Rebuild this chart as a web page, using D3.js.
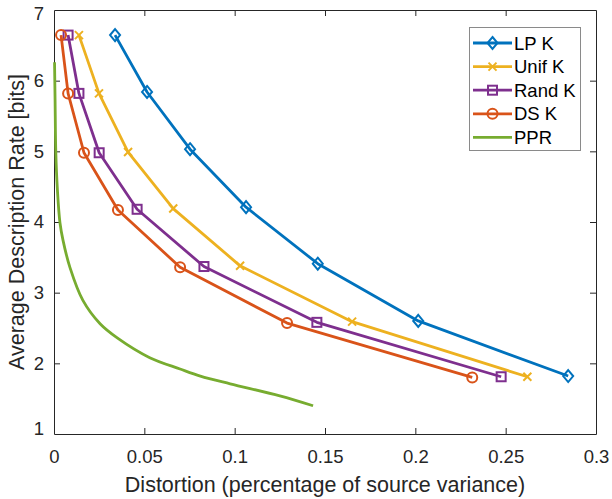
<!DOCTYPE html>
<html>
<head>
<meta charset="utf-8">
<script src="https://cdn.jsdelivr.net/npm/d3@7"></script>
<style>
  html, body { margin: 0; padding: 0; background: #fff; }
  svg { display: block; font-family: "Liberation Sans", Arial, Helvetica, sans-serif; }
</style>
</head>
<body>
<svg id="chart" width="612" height="499"></svg>
<script>
// ---- Data ----
const seriesNames = ["LP K", "Unif K", "Rand K", "DS K", "PPR"];
const seriesColors = ["#0072BD", "#EDB120", "#7E2F8E", "#D95319", "#77AC30"];
const seriesMarkers = ["diamond", "cross", "square", "circle", "none"];

const lpX   = [0.0338, 0.0515, 0.0753, 0.1063, 0.146, 0.2016, 0.2846];
const lpY   = [6.645, 5.84, 5.03, 4.21, 3.41, 2.60, 1.82];
const unifX = [0.0138, 0.0249, 0.041, 0.066, 0.103, 0.165, 0.262];
const unifY = [6.645, 5.82, 4.99, 4.19, 3.38, 2.59, 1.81];
const randX = [0.0078, 0.0138, 0.025, 0.046, 0.083, 0.1455, 0.2475];
const randY = [6.645, 5.82, 4.98, 4.18, 3.37, 2.58, 1.81];
const dsX   = [0.0039, 0.0078, 0.0166, 0.0354, 0.0698, 0.129, 0.2315];
const dsY   = [6.645, 5.82, 4.98, 4.17, 3.36, 2.57, 1.80];
const pprX  = [0.0003, 0.0006, 0.001, 0.0019, 0.0033, 0.005, 0.0089, 0.016, 0.0255, 0.035, 0.053, 0.0698, 0.081, 0.0975, 0.125, 0.1434];
const pprY  = [6.26, 5.72, 4.99, 4.45, 3.99, 3.74, 3.35, 2.89, 2.56, 2.36, 2.08, 1.92, 1.82, 1.71, 1.54, 1.40];

const xTicks = [0, 0.05, 0.1, 0.15, 0.2, 0.25, 0.3];
const yTicks = [1, 2, 3, 4, 5, 6, 7];
const xLabel = "Distortion (percentage of source variance)";
const yLabel = "Average Description Rate [bits]";

const seriesXs = [lpX, unifX, randX, dsX, pprX];
const seriesYs = [lpY, unifY, randY, dsY, pprY];

// ---- Layout ----
const margin = { left: 54, top: 10, right: 612 - 596, bottom: 499 - 434 };
const W = 612, H = 499;
const svg = d3.select("#chart");
const x = d3.scaleLinear().domain([0, 0.3]).range([margin.left, W - margin.right]);
const y = d3.scaleLinear().domain([1, 7]).range([H - margin.bottom, margin.top]);
const axisColor = "#262626";
const tickFont = 18.5;
const labelFont = 21.5;

// Axes
const xAxis = svg.append("g").attr("transform", `translate(0,${y(1)})`)
  .call(d3.axisBottom(x).tickValues(xTicks).tickFormat(d => d3.format("")(d)).tickSizeInner(-6).tickSizeOuter(0).tickPadding(16));
const xAxisTop = svg.append("g").attr("transform", `translate(0,${y(7)})`)
  .call(d3.axisTop(x).tickValues(xTicks).tickFormat("").tickSizeInner(-6).tickSizeOuter(0));
const yAxis = svg.append("g").attr("transform", `translate(${x(0)},0)`)
  .call(d3.axisLeft(y).tickValues(yTicks).tickFormat(d3.format("d")).tickSizeInner(-6).tickSizeOuter(0).tickPadding(10));
const yAxisRight = svg.append("g").attr("transform", `translate(${x(0.3)},0)`)
  .call(d3.axisRight(y).tickValues(yTicks).tickFormat("").tickSizeInner(-6).tickSizeOuter(0));

[xAxis, xAxisTop, yAxis, yAxisRight].forEach(g => {
  g.select(".domain").attr("stroke", axisColor).attr("stroke-width", 1);
  g.selectAll(".tick line").attr("stroke", axisColor).attr("stroke-width", 1);
  g.selectAll(".tick text").attr("fill", axisColor).attr("font-size", tickFont)
   .attr("font-family", "Liberation Sans, Arial, sans-serif");
});
// End labels nudged inward like the reference
yAxis.selectAll(".tick text").filter(d => d === 1).attr("dy", "0.05em");
yAxis.selectAll(".tick text").filter(d => d === 7).attr("dy", "0.5em");
// Hide end ticks that coincide with box corners
xAxis.selectAll(".tick line").filter(d => d === 0 || d === 0.3).remove();
xAxisTop.selectAll(".tick line").filter(d => d === 0 || d === 0.3).remove();
yAxis.selectAll(".tick line").filter(d => d === 1 || d === 7).remove();
yAxisRight.selectAll(".tick line").filter(d => d === 1 || d === 7).remove();

// Axis labels
svg.append("text").attr("x", (x(0) + x(0.3)) / 2).attr("y", 492)
  .attr("text-anchor", "middle").attr("font-size", labelFont).attr("fill", axisColor).text(xLabel);
svg.append("text").attr("transform", `translate(24,${(y(1) + y(7)) / 2}) rotate(-90)`)
  .attr("text-anchor", "middle").attr("font-size", labelFont).attr("fill", axisColor).text(yLabel);

// Marker drawing
function drawMarker(g, type, cx, cy, color) {
  const sw = 2;
  if (type === "diamond") {
    g.append("path").attr("d", `M${cx},${cy - 6}L${cx + 5},${cy}L${cx},${cy + 6}L${cx - 5},${cy}Z`)
      .attr("fill", "none").attr("stroke", color).attr("stroke-width", sw);
  } else if (type === "cross") {
    const s = 4;
    g.append("path").attr("d", `M${cx - s},${cy - s}L${cx + s},${cy + s}M${cx - s},${cy + s}L${cx + s},${cy - s}`)
      .attr("fill", "none").attr("stroke", color).attr("stroke-width", sw);
  } else if (type === "square") {
    g.append("rect").attr("x", cx - 4.5).attr("y", cy - 4.5).attr("width", 9).attr("height", 9)
      .attr("fill", "none").attr("stroke", color).attr("stroke-width", sw);
  } else if (type === "circle") {
    g.append("circle").attr("cx", cx).attr("cy", cy).attr("r", 5)
      .attr("fill", "none").attr("stroke", color).attr("stroke-width", sw);
  }
}

// Series
const plot = svg.append("g");
seriesNames.forEach((name, i) => {
  const pts = seriesXs[i].map((xv, j) => [xv, seriesYs[i][j]]);
  const line = d3.line().x(d => x(d[0])).y(d => y(d[1]));
  if (seriesMarkers[i] === "none") line.curve(d3.curveCatmullRom.alpha(0.5));
  plot.append("path").datum(pts).attr("d", line)
    .attr("fill", "none").attr("stroke", seriesColors[i]).attr("stroke-width", 2.8)
    .attr("stroke-linejoin", "round").attr("stroke-linecap", "butt");
  if (seriesMarkers[i] !== "none") {
    const mg = plot.append("g");
    pts.forEach(d => drawMarker(mg, seriesMarkers[i], x(d[0]), y(d[1]), seriesColors[i]));
  }
});

// Legend
const lg = svg.append("g");
lg.append("rect").attr("x", 469.5).attr("y", 27.5).attr("width", 111).attr("height", 123)
  .attr("fill", "#fff").attr("stroke", "#8a8a8a").attr("stroke-width", 1);
seriesNames.forEach((name, i) => {
  const cy = 43 + i * 23.6;
  lg.append("line").attr("x1", 473).attr("x2", 512).attr("y1", cy).attr("y2", cy)
    .attr("stroke", seriesColors[i]).attr("stroke-width", 2.8);
  if (seriesMarkers[i] !== "none") drawMarker(lg, seriesMarkers[i], 492.5, cy, seriesColors[i]);
  lg.append("text").attr("x", 514).attr("y", cy + 6.5).attr("font-size", tickFont)
    .attr("fill", "#000").text(name);
});
</script>
</body>
</html>
